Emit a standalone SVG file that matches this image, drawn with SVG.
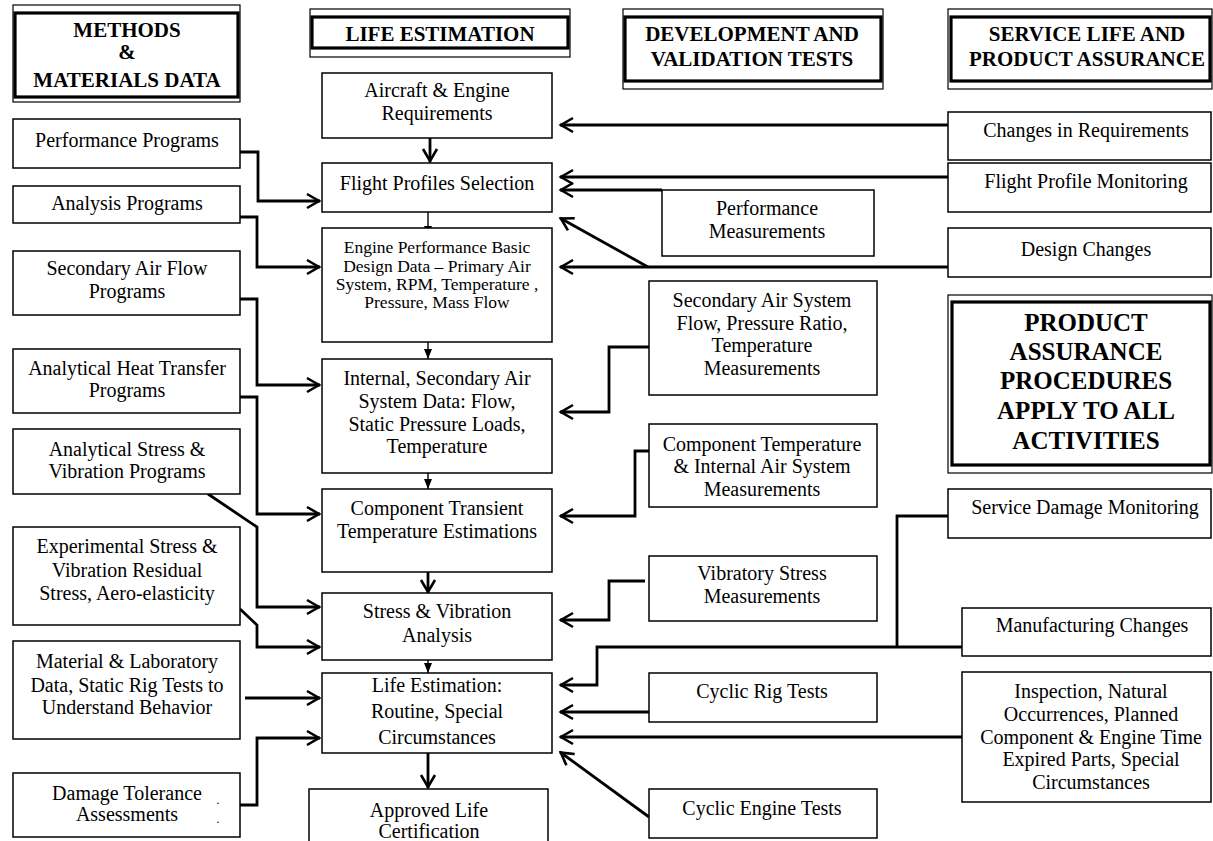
<svg xmlns="http://www.w3.org/2000/svg" width="1213" height="841" viewBox="0 0 1213 841">
<style>
.bx{fill:#fff;stroke:#000;stroke-width:1.5}
.ho{fill:#fff;stroke:#000;stroke-width:1.2}
.hi{fill:none;stroke:#000;stroke-width:3.2}
.t{font-family:"Liberation Serif","Times New Roman",serif;font-size:20px;fill:#000;text-anchor:middle}
.s{font-size:17.5px}
.h{font-family:"Liberation Serif","Times New Roman",serif;font-size:21px;font-weight:bold;fill:#000;text-anchor:middle}
.p{font-size:25px}
.c{fill:none;stroke:#000;stroke-width:2.8}
.c2{fill:none;stroke:#000;stroke-width:1.4}
</style>
<defs>
<marker id="chev" markerUnits="userSpaceOnUse" markerWidth="20" markerHeight="20" viewBox="0 0 20 20" refX="17" refY="10" orient="auto">
<path d="M4,3 L16,10 L4,17" fill="none" stroke="#000" stroke-width="2.6"/>
</marker>
<marker id="tri" markerUnits="userSpaceOnUse" markerWidth="10" markerHeight="10" viewBox="0 0 10 10" refX="10" refY="5" orient="auto">
<path d="M0,1 L10,5 L0,9 z" fill="#000"/>
</marker>
</defs>
<rect width="1213" height="841" fill="#fff"/>

<g id="connectors">
<path class="c" d="M430,138 V162" marker-end="url(#chev)"/>
<path class="c2" d="M428,212 V236" marker-end="url(#tri)"/>
<path class="c2" d="M428,342 V359" marker-end="url(#tri)"/>
<path class="c2" d="M428,473 V489" marker-end="url(#tri)"/>
<path class="c" d="M428,572 V593" marker-end="url(#chev)"/>
<path class="c2" d="M428,660 V673" marker-end="url(#tri)"/>
<path class="c" d="M428,753 V788" marker-end="url(#chev)"/>
<path class="c" d="M240,152 H258 V201 H320" marker-end="url(#chev)"/>
<path class="c" d="M240,217 H257 V267 H320" marker-end="url(#chev)"/>
<path class="c" d="M240,299 H257 V385 H320" marker-end="url(#chev)"/>
<path class="c" d="M240,397 H257 V514 H320" marker-end="url(#chev)"/>
<path class="c" d="M208,494 L257,527 V607 H320" marker-end="url(#chev)"/>
<path class="c" d="M240,609 L257,625 V647 H320" marker-end="url(#chev)"/>
<path class="c" d="M245,698 H320" marker-end="url(#chev)"/>
<path class="c" d="M240,805 H257 V738 H320" marker-end="url(#chev)"/>
<path class="c" d="M948,125 H560" marker-end="url(#chev)"/>
<path class="c" d="M948,177 H560" marker-end="url(#chev)"/>
<path class="c" d="M662,190 H560" marker-end="url(#chev)"/>
<path class="c" d="M948,267 H560" marker-end="url(#chev)"/>
<path class="c" d="M648,267 L560,218" marker-end="url(#chev)"/>
<path class="c" d="M649,347 H609 V412 H560" marker-end="url(#chev)"/>
<path class="c" d="M649,451 H635 V516 H560" marker-end="url(#chev)"/>
<path class="c" d="M645,581 H609 V620 H560" marker-end="url(#chev)"/>
<path class="c" d="M948,516 H897 V647"/>
<path class="c" d="M962,647 H597 V685 H560" marker-end="url(#chev)"/>
<path class="c" d="M649,712 H560" marker-end="url(#chev)"/>
<path class="c" d="M962,737 H560" marker-end="url(#chev)"/>
<path class="c" d="M649,817 L560,752" marker-end="url(#chev)"/>
</g>

<g id="hdr-methods">
<rect class="ho" x="13" y="5" width="227" height="97"/>
<rect class="hi" x="15" y="13" width="223" height="84"/>
<text class="h" x="127" y="37">METHODS</text>
<text class="h" x="127" y="59">&amp;</text>
<text class="h" x="127" y="87">MATERIALS DATA</text>
</g>
<g id="hdr-life">
<rect class="ho" x="310" y="9" width="260" height="48"/>
<rect class="hi" x="312" y="17" width="256" height="31"/>
<text class="h" x="440" y="41">LIFE ESTIMATION</text>
</g>
<g id="hdr-dev">
<rect class="ho" x="623" y="9" width="260" height="80"/>
<rect class="hi" x="625" y="17" width="256" height="64"/>
<text class="h" x="752" y="41">DEVELOPMENT AND</text>
<text class="h" x="752" y="66">VALIDATION TESTS</text>
</g>
<g id="hdr-service">
<rect class="ho" x="948" y="9" width="264" height="80"/>
<rect class="hi" x="951" y="17" width="259" height="64"/>
<text class="h" x="1087" y="41">SERVICE LIFE AND</text>
<text class="h" x="1087" y="66">PRODUCT ASSURANCE</text>
</g>
<g id="hdr-product">
<rect class="ho" x="948" y="295" width="264" height="178"/>
<rect class="hi" x="952" y="302" width="258" height="163"/>
<text class="h p" x="1086" y="331">PRODUCT</text>
<text class="h p" x="1086" y="360">ASSURANCE</text>
<text class="h p" x="1086" y="389">PROCEDURES</text>
<text class="h p" x="1086" y="419">APPLY TO ALL</text>
<text class="h p" x="1086" y="449">ACTIVITIES</text>
</g>

<g id="perf-programs"><rect class="bx" x="13" y="119" width="227" height="49"/>
<text class="t" x="127" y="147">Performance Programs</text></g>
<g id="analysis-programs"><rect class="bx" x="13" y="186" width="227" height="37"/>
<text class="t" x="127" y="210">Analysis Programs</text></g>
<g id="sec-air-programs"><rect class="bx" x="13" y="251" width="227" height="64"/>
<text class="t" x="127" y="275">Secondary Air Flow</text>
<text class="t" x="127" y="298">Programs</text></g>
<g id="heat-transfer"><rect class="bx" x="13" y="349" width="227" height="64"/>
<text class="t" x="127" y="375">Analytical Heat Transfer</text>
<text class="t" x="127" y="397">Programs</text></g>
<g id="stress-programs"><rect class="bx" x="13" y="429" width="227" height="65"/>
<text class="t" x="127" y="456">Analytical Stress &amp;</text>
<text class="t" x="127" y="478">Vibration Programs</text></g>
<g id="experimental"><rect class="bx" x="13" y="527" width="227" height="98"/>
<text class="t" x="127" y="553">Experimental Stress &amp;</text>
<text class="t" x="127" y="577">Vibration Residual</text>
<text class="t" x="127" y="600">Stress, Aero-elasticity</text></g>
<g id="material"><rect class="bx" x="13" y="641" width="227" height="98"/>
<text class="t" x="127" y="668">Material &amp; Laboratory</text>
<text class="t" x="127" y="692">Data, Static Rig Tests to</text>
<text class="t" x="127" y="714">Understand Behavior</text></g>
<g id="damage-tolerance"><rect class="bx" x="13" y="773" width="227" height="64"/>
<text class="t" x="127" y="800">Damage Tolerance</text>
<text class="t" x="127" y="821">Assessments</text>
<text class="t" x="218" y="804" style="font-size:12px">.</text>
<text class="t" x="218" y="823" style="font-size:12px">.</text></g>

<g id="aircraft"><rect class="bx" x="322" y="73" width="230" height="65"/>
<text class="t" x="437" y="97">Aircraft &amp; Engine</text>
<text class="t" x="437" y="120">Requirements</text></g>
<g id="flight-selection"><rect class="bx" x="322" y="163" width="230" height="49"/>
<text class="t" x="437" y="190">Flight Profiles Selection</text></g>
<g id="engine-perf"><rect class="bx" x="322" y="228" width="230" height="114"/>
<text class="t s" x="437" y="253">Engine Performance Basic</text>
<text class="t s" x="437" y="272">Design Data – Primary Air</text>
<text class="t s" x="437" y="290">System, RPM, Temperature ,</text>
<text class="t s" x="437" y="308">Pressure, Mass Flow</text></g>
<g id="internal-air"><rect class="bx" x="322" y="359" width="230" height="114"/>
<text class="t" x="437" y="385">Internal, Secondary Air</text>
<text class="t" x="437" y="408">System Data: Flow,</text>
<text class="t" x="437" y="431">Static Pressure Loads,</text>
<text class="t" x="437" y="453">Temperature</text></g>
<g id="transient-temp"><rect class="bx" x="322" y="489" width="230" height="83"/>
<text class="t" x="437" y="515">Component Transient</text>
<text class="t" x="437" y="538">Temperature Estimations</text></g>
<g id="stress-analysis"><rect class="bx" x="322" y="593" width="230" height="67"/>
<text class="t" x="437" y="618">Stress &amp; Vibration</text>
<text class="t" x="437" y="642">Analysis</text></g>
<g id="life-estimation"><rect class="bx" x="322" y="673" width="230" height="80"/>
<text class="t" x="437" y="692">Life Estimation:</text>
<text class="t" x="437" y="718">Routine, Special</text>
<text class="t" x="437" y="744">Circumstances</text></g>
<g id="approved"><rect class="bx" x="309" y="789" width="239" height="60"/>
<text class="t" x="429" y="817">Approved Life</text>
<text class="t" x="429" y="838">Certification</text></g>

<g id="perf-meas"><rect class="bx" x="662" y="190" width="212" height="66"/>
<text class="t" x="767" y="215">Performance</text>
<text class="t" x="767" y="238">Measurements</text></g>
<g id="sec-air-meas"><rect class="bx" x="649" y="281" width="228" height="114"/>
<text class="t" x="762" y="307">Secondary Air System</text>
<text class="t" x="762" y="330">Flow, Pressure Ratio,</text>
<text class="t" x="762" y="352">Temperature</text>
<text class="t" x="762" y="375">Measurements</text></g>
<g id="comp-temp-meas"><rect class="bx" x="649" y="424" width="228" height="83"/>
<text class="t" x="762" y="451">Component Temperature</text>
<text class="t" x="762" y="473">&amp; Internal Air System</text>
<text class="t" x="762" y="496">Measurements</text></g>
<g id="vib-meas"><rect class="bx" x="649" y="556" width="228" height="65"/>
<text class="t" x="762" y="580">Vibratory Stress</text>
<text class="t" x="762" y="603">Measurements</text></g>
<g id="cyclic-rig"><rect class="bx" x="649" y="673" width="228" height="49"/>
<text class="t" x="762" y="698">Cyclic Rig Tests</text></g>
<g id="cyclic-engine"><rect class="bx" x="649" y="789" width="228" height="49"/>
<text class="t" x="762" y="815">Cyclic Engine Tests</text></g>

<g id="changes-req"><rect class="bx" x="948" y="112" width="263" height="48"/>
<text class="t" x="1086" y="137">Changes in Requirements</text></g>
<g id="flight-monitor"><rect class="bx" x="948" y="163" width="263" height="49"/>
<text class="t" x="1086" y="188">Flight Profile Monitoring</text></g>
<g id="design-changes"><rect class="bx" x="948" y="228" width="263" height="49"/>
<text class="t" x="1086" y="256">Design Changes</text></g>
<g id="service-damage"><rect class="bx" x="948" y="489" width="263" height="49"/>
<text class="t" x="1085" y="514">Service Damage Monitoring</text></g>
<g id="manufacturing"><rect class="bx" x="962" y="608" width="249" height="48"/>
<text class="t" x="1092" y="632">Manufacturing Changes</text></g>
<g id="inspection"><rect class="bx" x="962" y="672" width="249" height="130"/>
<text class="t" x="1091" y="698">Inspection, Natural</text>
<text class="t" x="1091" y="721">Occurrences, Planned</text>
<text class="t" x="1091" y="744">Component &amp; Engine Time</text>
<text class="t" x="1091" y="766">Expired Parts, Special</text>
<text class="t" x="1091" y="789">Circumstances</text></g>
</svg>
